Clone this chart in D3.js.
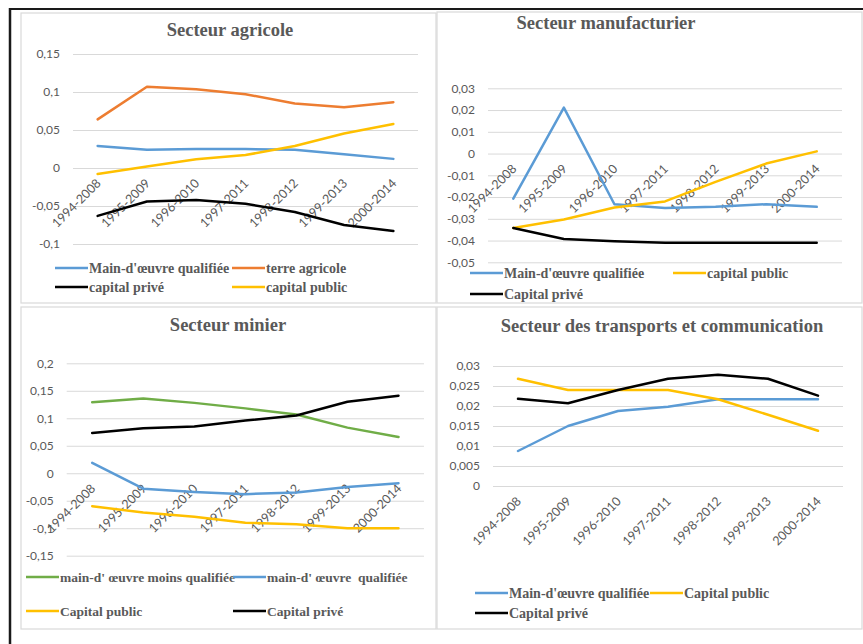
<!DOCTYPE html>
<html>
<head>
<meta charset="utf-8">
<script src="https://cdn.jsdelivr.net/npm/d3@7"></script>
<style>
  html, body { margin: 0; padding: 0; background: #fff; }
  svg { display: block; }
</style>
</head>
<body>
<script>
// ---------------- DATA ----------------
const categories = ["1994-2008","1995-2009","1996-2010","1997-2011","1998-2012","1999-2013","2000-2014"];

// Secteur agricole
const agriQualifiee = [0.029, 0.024, 0.025, 0.025, 0.024, 0.018, 0.012];
const agriTerre     = [0.064, 0.107, 0.1035, 0.097, 0.085, 0.080, 0.0865];
const agriPrive     = [-0.063, -0.044, -0.042, -0.047, -0.058, -0.075, -0.083];
const agriPublic    = [-0.008, 0.002, 0.0115, 0.017, 0.029, 0.0455, 0.058];
const agriTickValues = [-0.1, -0.05, 0, 0.05, 0.1, 0.15];
const agriTickLabels = ["-0,1", "-0,05", "0", "0,05", "0,1", "0,15"];

// Secteur manufacturier
const manuQualifiee = [-0.0207, 0.0211, -0.0233, -0.025, -0.0245, -0.0233, -0.0245];
const manuPublic    = [-0.0342, -0.0303, -0.0248, -0.022, -0.013, -0.0046, 0.001];
const manuPrive     = [-0.0342, -0.0393, -0.0403, -0.041, -0.041, -0.041, -0.041];
const manuTickValues = [-0.05, -0.04, -0.03, -0.02, -0.01, 0, 0.01, 0.02, 0.03];
const manuTickLabels = ["-0,05", "-0,04", "-0,03", "-0,02", "-0,01", "0", "0,01", "0,02", "0,03"];

// Secteur minier
const minMoinsQualifiee = [0.129, 0.136, 0.128, 0.118, 0.107, 0.083, 0.066];
const minQualifiee      = [0.019, -0.028, -0.034, -0.038, -0.035, -0.025, -0.018];
const minPublic         = [-0.06, -0.0715, -0.079, -0.09, -0.093, -0.1, -0.1];
const minPrive          = [0.073, 0.082, 0.085, 0.096, 0.105, 0.130, 0.141];
const minTickValues = [-0.15, -0.1, -0.05, 0, 0.05, 0.1, 0.15, 0.2];
const minTickLabels = ["-0,15", "-0,1", "-0,05", "0", "0,05", "0,1", "0,15", "0,2"];

// Secteur des transports et communication
const transQualifiee = [0.00875, 0.015, 0.01875, 0.0198, 0.0217, 0.0217, 0.0217];
const transPublic    = [0.0268, 0.024, 0.024, 0.024, 0.0217, 0.0178, 0.0138];
const transPrive     = [0.0218, 0.0207, 0.024, 0.0268, 0.0278, 0.0268, 0.0226];
const transTickValues = [0, 0.005, 0.01, 0.015, 0.02, 0.025, 0.03];
const transTickLabels = ["0", "0,005", "0,01", "0,015", "0,02", "0,025", "0,03"];

// ---------------- STYLE ----------------
const BLUE = "#5B9BD5", ORANGE = "#ED7D31", GOLD = "#FFC000", BLACK = "#000000", GREEN = "#70AD47";
const TXT = "#595959";

const W = 863, H = 644;
const svg = d3.select("body").append("svg").attr("width", W).attr("height", H);
svg.append("rect").attr("width", W).attr("height", H).attr("fill", "#fff");

// outer frame
svg.append("line").attr("x1", 9).attr("x2", W).attr("y1", 9).attr("y2", 9)
  .attr("stroke", "#1a1a1a").attr("stroke-width", 2);
svg.append("line").attr("x1", 10).attr("x2", 10).attr("y1", 8).attr("y2", H)
  .attr("stroke", "#1a1a1a").attr("stroke-width", 2.5);

function drawPanel(p) {
  const g = svg.append("g");
  // panel box
  g.append("rect").attr("x", p.box[0]).attr("y", p.box[1])
    .attr("width", p.box[2] - p.box[0]).attr("height", p.box[3] - p.box[1])
    .attr("fill", "#fff").attr("stroke", "#d9d9d9").attr("stroke-width", 1.2);

  // title
  g.append("text").attr("x", p.title[1]).attr("y", p.title[2])
    .attr("text-anchor", "middle")
    .attr("font-family", "'Liberation Serif', 'Times New Roman', serif")
    .attr("font-weight", "bold").attr("font-size", 18.5)
    .attr("fill", TXT).text(p.title[0]);

  const x = d3.scaleBand().domain(categories).range([p.plot[0], p.plot[1]]);
  const y = d3.scaleLinear().domain(p.domain).range([p.plot[3], p.plot[2]]);
  const cx = c => x(c) + x.bandwidth() / 2;

  // y axis with gridlines
  const yAxis = d3.axisLeft(y).tickValues(p.tickValues)
    .tickFormat((d, i) => p.tickLabels[i])
    .tickSize(-(p.plot[1] - p.plot[0])).tickPadding(13);
  const ya = g.append("g").attr("transform", `translate(${p.plot[0]},0)`).call(yAxis);
  ya.select(".domain").remove();
  ya.selectAll(".tick line").attr("stroke", "#d9d9d9").attr("stroke-width", 1);
  ya.selectAll(".tick text").attr("fill", TXT)
    .attr("font-family", "Lato, 'Liberation Sans', sans-serif").attr("font-size", 12);

  // x axis labels at y=0
  const xAxis = d3.axisBottom(x).tickSize(0);
  const xa = g.append("g").attr("transform", `translate(0,${y(0)})`).call(xAxis);
  xa.select(".domain").remove();
  xa.selectAll(".tick text")
    .attr("x", 0).attr("y", 0).attr("dy", 0)
    .attr("text-anchor", "end")
    .attr("transform", "translate(4,16) rotate(-45)")
    .attr("fill", TXT)
    .attr("font-family", "Lato, 'Liberation Sans', sans-serif").attr("font-size", 12.5);

  // lines
  const line = d3.line()
    .x((d, i) => cx(categories[i]))
    .y(d => y(d))
    .curve(d3.curveLinear);
  p.series.forEach(s => {
    g.append("path").datum(s.values)
      .attr("fill", "none").attr("stroke", s.color)
      .attr("stroke-width", 2.5).attr("stroke-linejoin", "round").attr("stroke-linecap", "round")
      .attr("d", line);
  });

  // legend
  p.series.forEach(s => {
    const [lx, ly] = s.legend;
    g.append("line").attr("x1", lx).attr("x2", lx + 33).attr("y1", ly).attr("y2", ly)
      .attr("stroke", s.color).attr("stroke-width", 2.5);
    g.append("text").attr("x", lx + 34).attr("y", ly + 4.5)
      .attr("font-family", "'Liberation Serif', 'Times New Roman', serif")
      .attr("font-weight", "bold").attr("font-size", p.legendSize || 14)
      .attr("fill", TXT).attr("xml:space", "preserve").text(s.name);
  });
}

drawPanel({
  box: [21, 13, 436, 303],
  title: ["Secteur agricole", 230, 36],
  plot: [73, 418, 54, 244],
  domain: [-0.1, 0.15],
  tickValues: agriTickValues, tickLabels: agriTickLabels,
  series: [
    { name: "Main-d'œuvre qualifiée", values: agriQualifiee, color: BLUE,   legend: [55, 268] },
    { name: "terre agricole",         values: agriTerre,     color: ORANGE, legend: [232, 268] },
    { name: "capital privé",          values: agriPrive,     color: BLACK,  legend: [55, 287] },
    { name: "capital public",         values: agriPublic,    color: GOLD,   legend: [232, 287] }
  ]
});

drawPanel({
  box: [437, 12, 862, 303],
  title: ["Secteur manufacturier", 606, 29],
  plot: [488, 842, 88.3, 262.3],
  domain: [-0.05, 0.03],
  tickValues: manuTickValues, tickLabels: manuTickLabels,
  series: [
    { name: "Main-d'œuvre qualifiée", values: manuQualifiee, color: BLUE,  legend: [470, 273] },
    { name: "capital public",         values: manuPublic,    color: GOLD,  legend: [673, 273] },
    { name: "Capital privé",          values: manuPrive,     color: BLACK, legend: [470, 294] }
  ]
});

drawPanel({
  box: [21, 307, 436, 629],
  title: ["Secteur minier", 228, 331],
  plot: [66.7, 424, 363.3, 555.7],
  domain: [-0.15, 0.2],
  tickValues: minTickValues, tickLabels: minTickLabels,
  legendSize: 13.5,
  series: [
    { name: "main-d' œuvre moins qualifiée", values: minMoinsQualifiee, color: GREEN, legend: [26, 577] },
    { name: "main-d' œuvre  qualifiée",      values: minQualifiee,      color: BLUE,  legend: [233, 577] },
    { name: "Capital public",                values: minPublic,         color: GOLD,  legend: [26, 611] },
    { name: "Capital privé",                 values: minPrive,          color: BLACK, legend: [233, 611] }
  ]
});

drawPanel({
  box: [437, 307, 862, 629],
  title: ["Secteur des transports et communication", 662, 332],
  plot: [493, 843, 366, 486],
  domain: [0, 0.03],
  tickValues: transTickValues, tickLabels: transTickLabels,
  series: [
    { name: "Main-d'œuvre qualifiée", values: transQualifiee, color: BLUE,  legend: [475, 593] },
    { name: "Capital public",         values: transPublic,    color: GOLD,  legend: [650, 593] },
    { name: "Capital privé",          values: transPrive,     color: BLACK, legend: [475, 613] }
  ]
});
</script>
</body>
</html>
